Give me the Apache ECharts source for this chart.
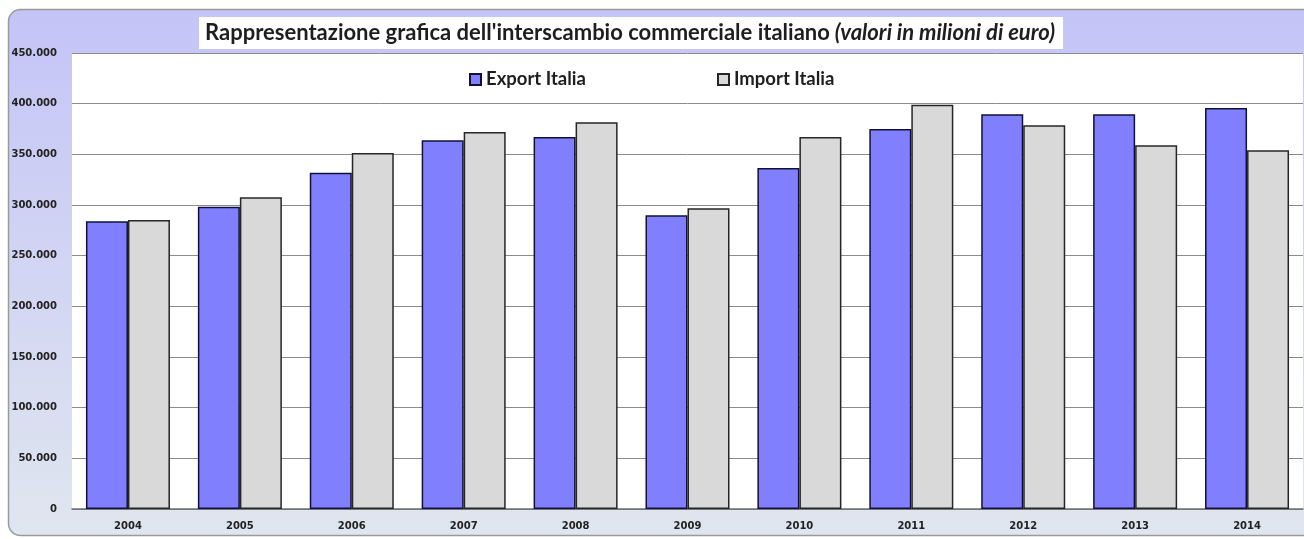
<!DOCTYPE html>
<html>
<head>
<meta charset="utf-8">
<script src="https://cdn.jsdelivr.net/npm/echarts@6/dist/echarts.min.js"></script>
<style>
  html, body { margin: 0; padding: 0; background: #fff; }
  #chart { width: 1304px; height: 539px; }
</style>
</head>
<body>
<div id="chart"></div>
<script>
  // anni (categorie)
  var years = ['2004', '2005', '2006', '2007', '2008', '2009', '2010', '2011', '2012', '2013', '2014']
  // valori in milioni di euro
  var exportItalia = [283900, 298300, 331900, 363800, 367000, 289800, 336500, 375000, 389500, 389500, 395700]
  var importItalia = [285200, 307600, 351300, 372000, 381600, 296700, 367000, 399000, 378700, 358900, 354000]
  var yTicks = { min: 0, max: 450000, interval: 50000 }

  function fmtIt(v) {
    return String(v).replace(/\B(?=(\d{3})+(?!\d))/g, '.')
  }

  var legendText = { fontFamily: 'Lato', fontWeight: 'bold', fontSize: 18.5, color: '#1e1e1e' }

  var chart = echarts.init(document.getElementById('chart'))
  chart.setOption({
    animation: false,
    graphic: [{
      type: 'rect',
      z: -10,
      shape: { x: 8.5, y: 9.5, width: 1320, height: 526, r: 12 },
      style: {
        fill: new echarts.graphic.LinearGradient(0, 0, 0, 1, [
          { offset: 0, color: '#c4c4f7' },
          { offset: 1, color: '#e0e6ef' }
        ]),
        stroke: '#9a9a9a',
        lineWidth: 1.5
      }
    }],
    title: {
      text: '{a|Rappresentazione grafica dell\'interscambio commerciale italiano} {b|(valori in milioni di euro)}',
      left: 199,
      top: 15,
      backgroundColor: '#ffffff',
      padding: [5, 8, 5, 6],
      textStyle: {
        rich: {
          a: { fontFamily: 'Lato', fontSize: 22, color: '#1e1e1e', lineHeight: 26 },
          b: { fontFamily: 'Lato', fontSize: 22, fontStyle: 'italic', color: '#1e1e1e', lineHeight: 26 }
        }
      }
    },
    legend: [{
      data: ['Export Italia'],
      left: 464,
      top: 65,
      icon: 'rect',
      itemWidth: 11,
      itemHeight: 11,
      textStyle: legendText
    }, {
      data: ['Import Italia'],
      left: 712,
      top: 65,
      icon: 'rect',
      itemWidth: 11,
      itemHeight: 11,
      textStyle: legendText
    }],
    grid: {
      left: 72,
      right: 1,
      top: 53,
      bottom: 30,
      show: true,
      backgroundColor: '#ffffff',
      borderWidth: 0
    },
    xAxis: {
      type: 'category',
      data: years,
      axisLine: { lineStyle: { color: '#6e6e6e', width: 1.5 } },
      axisTick: { show: false },
      axisLabel: {
        fontFamily: 'DejaVu Sans',
        fontWeight: 'bold',
        fontSize: 10,
        color: '#222',
        margin: 12
      }
    },
    yAxis: {
      type: 'value',
      min: yTicks.min,
      max: yTicks.max,
      interval: yTicks.interval,
      axisLine: { show: false },
      axisTick: { show: false },
      splitLine: { lineStyle: { color: '#8c8c8c', width: 1 } },
      axisLabel: {
        fontFamily: 'DejaVu Sans',
        fontWeight: 'bold',
        fontSize: 10,
        color: '#222',
        margin: 15,
        formatter: fmtIt
      }
    },
    series: [{
      name: 'Export Italia',
      type: 'bar',
      data: exportItalia,
      barWidth: 42,
      barGap: '0%',
      itemStyle: { color: '#8080ff', borderColor: '#10103a', borderWidth: 1.5 }
    }, {
      name: 'Import Italia',
      type: 'bar',
      data: importItalia,
      barWidth: 42,
      itemStyle: { color: '#d9d9d9', borderColor: '#262626', borderWidth: 1.5 }
    }]
  })
</script>
</body>
</html>
